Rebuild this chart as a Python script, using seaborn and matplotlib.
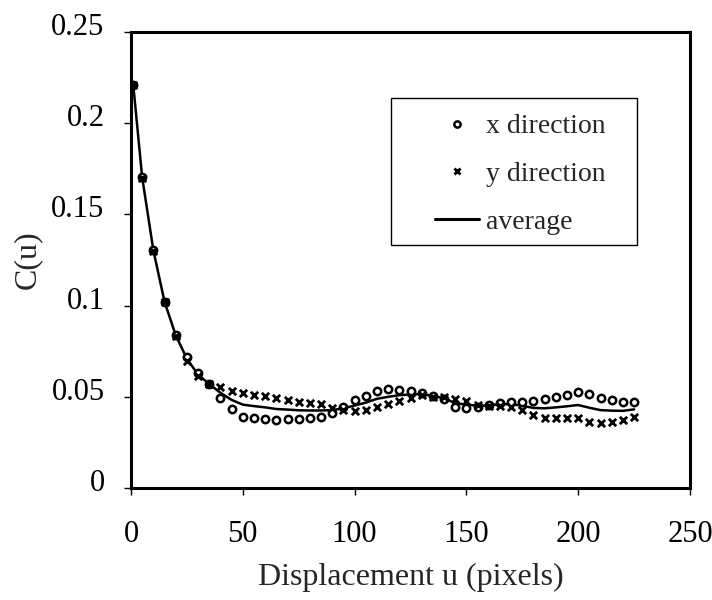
import matplotlib
matplotlib.use("Agg")
import matplotlib.pyplot as plt
import matplotlib.transforms as mtransforms
from matplotlib.patches import Rectangle
from matplotlib.lines import Line2D
import seaborn as sns
import pandas as pd

# ---- data ----
u = [1, 5, 10, 15, 20, 25, 30, 35, 40, 45, 50, 55, 60, 65, 70, 75, 80, 85, 90, 95,
     100, 105, 110, 115, 120, 125, 130, 135, 140, 145, 150, 155, 160, 165, 170, 175,
     180, 185, 190, 195, 200, 205, 210, 215, 220, 225]
x_direction = [0.221, 0.1706, 0.1306, 0.1022, 0.0839, 0.0720, 0.0630, 0.0571, 0.0492, 0.0432,
               0.0391, 0.0386, 0.0377, 0.0373, 0.0377, 0.0379, 0.0382, 0.0388, 0.0413, 0.0446,
               0.0480, 0.0507, 0.0534, 0.0541, 0.0538, 0.0534, 0.0520, 0.0506, 0.0488, 0.0443,
               0.0437, 0.0446, 0.0455, 0.0468, 0.0473, 0.0473, 0.0477, 0.0487, 0.0498, 0.0510,
               0.0528, 0.0516, 0.0495, 0.0483, 0.0473, 0.0473]
y_direction = [0.221, 0.1700, 0.1300, 0.1020, 0.0835, 0.0697, 0.0612, 0.0568, 0.0552, 0.0534,
               0.0523, 0.0512, 0.0506, 0.0492, 0.0483, 0.0473, 0.0468, 0.0461, 0.0440, 0.0428,
               0.0424, 0.0428, 0.0443, 0.0459, 0.0479, 0.0492, 0.0510, 0.0501, 0.0497, 0.0487,
               0.0477, 0.0455, 0.0450, 0.0450, 0.0446, 0.0428, 0.0400, 0.0386, 0.0386, 0.0386,
               0.0382, 0.0364, 0.0358, 0.0364, 0.0373, 0.0388]
average = [0.221, 0.1703, 0.1303, 0.1021, 0.0837, 0.0709, 0.0621, 0.0570, 0.0522, 0.0483,
           0.0457, 0.0449, 0.0442, 0.0433, 0.0430, 0.0426, 0.0425, 0.0425, 0.0427, 0.0437,
           0.0452, 0.0468, 0.0489, 0.0500, 0.0509, 0.0513, 0.0515, 0.0504, 0.0493, 0.0465,
           0.0457, 0.0451, 0.0453, 0.0459, 0.0460, 0.0451, 0.0439, 0.0437, 0.0442, 0.0448,
           0.0455, 0.0440, 0.0427, 0.0424, 0.0423, 0.0431]
x_ticks = [0, 50, 100, 150, 200, 250]
y_ticks = [0, 0.05, 0.1, 0.15, 0.2, 0.25]
y_tick_labels = ["0", "0.05", "0.1", "0.15", "0.2", "0.25"]
legend_labels = ["x direction", "y direction", "average"]

df = pd.DataFrame({"u": u, "x": x_direction, "y": y_direction, "avg": average})

sns.set_style("ticks")
plt.rcParams["font.family"] = ["Liberation Serif", "DejaVu Serif"]

fig = plt.figure(figsize=(7.12, 6.0), dpi=100)
ax = fig.add_axes([131 / 712, 1 - 488 / 600, (690 - 131) / 712, (488 - 32) / 600])

sns.lineplot(data=df, x="u", y="avg", ax=ax, color="black", linewidth=1.8)
sns.scatterplot(data=df, x="u", y="x", ax=ax, marker="o", s=28,
                facecolor="white", edgecolor="black", linewidth=1.8, zorder=3)
sns.scatterplot(data=df, x="u", y="y", ax=ax, marker="x", s=28,
                color="black", linewidth=2.0, zorder=3)

ax.set_xlim(0, 250)
ax.set_ylim(0, 0.25)
ax.set_xticks(x_ticks)
ax.set_yticks(y_ticks)
ax.set_yticklabels(y_tick_labels)
ax.tick_params(axis="both", direction="out", length=5, width=1, labelsize=22, colors="black")
ax.tick_params(axis="y", pad=14)
ax.tick_params(axis="x", pad=18)
for lab in ax.get_yticklabels():
    lab.set_transform(lab.get_transform() + mtransforms.ScaledTranslation(0, 8 / 100, fig.dpi_scale_trans))

for sp in ax.spines.values():
    sp.set_visible(True)
    sp.set_linewidth(2.2)
    sp.set_color("black")

ax.set_xlabel("Displacement u (pixels)", fontsize=23, labelpad=10)
ax.set_ylabel("C(u)", fontsize=23, labelpad=7)

# legend
handles = [
    Line2D([], [], linestyle="none", marker="o", markersize=4.5, markerfacecolor="white",
           markeredgecolor="black", markeredgewidth=1.8),
    Line2D([], [], linestyle="none", marker="x", markersize=4.5, color="black", markeredgewidth=2),
    Line2D([], [], color="black", linewidth=2.2),
]
leg = ax.legend(handles, legend_labels, loc="upper left",
                bbox_to_anchor=((435 - 131) / 559, (488 - 114) / 456),
                frameon=False, fontsize=20, borderpad=0, borderaxespad=0,
                handlelength=1.6, handletextpad=0.25, labelspacing=0.8)
ax.add_patch(Rectangle(((391 - 131) / 559, (488 - 245) / 456), (637 - 391) / 559, (245 - 98) / 456,
                       transform=ax.transAxes, fill=False, edgecolor="black", linewidth=1.0,
                       zorder=4))

fig.savefig("out.png", dpi=100, facecolor="white")
